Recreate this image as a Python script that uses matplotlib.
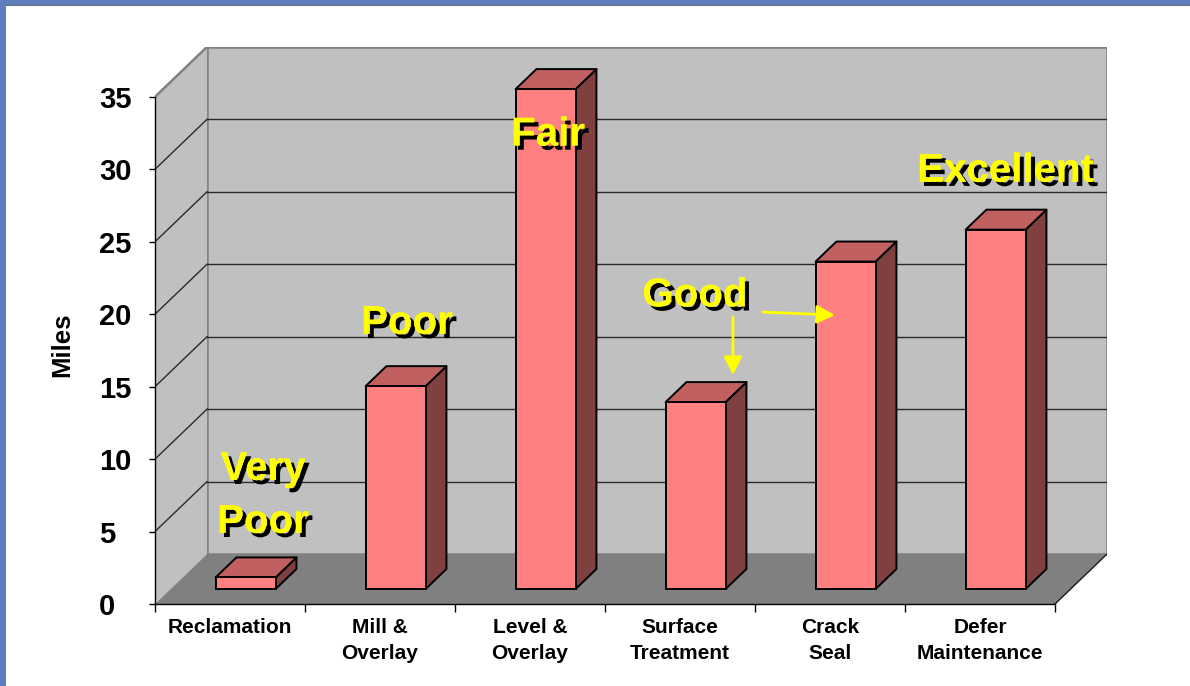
import matplotlib

matplotlib.use("Agg")

import matplotlib.patheffects as pe
import matplotlib.pyplot as plt
from matplotlib.patches import Polygon, Rectangle

plt.rcParams["font.family"] = ["Liberation Sans", "DejaVu Sans"]
plt.rcParams["font.weight"] = "bold"

# chart data
categories = [
    "Reclamation",
    "Mill &\nOverlay",
    "Level &\nOverlay",
    "Surface\nTreatment",
    "Crack\nSeal",
    "Defer\nMaintenance",
]
miles = [0.8, 14.0, 34.5, 12.9, 22.6, 24.8]
y_ticks = [0, 5, 10, 15, 20, 25, 30, 35]
conditions = ["Very\nPoor", "Poor", "Fair", "Good", "Excellent"]

# pseudo-3d layout (in data units)
DEPTH_X = 0.347
DEPTH_Y = 3.45
BAR_WIDTH = 0.4
BAR_FRONT = 0.3
BAR_DEPTH = 0.4
Y_MAX = 35

WALL = "#C0C0C0"
FLOOR = "#808080"
EDGE = "#808080"
GRID = "#2A2A2A"
FRONT = "#FF8080"
TOP = "#C06060"
SIDE = "#804040"
YELLOW = "#FFFF00"
FRAME = "#5E7EBE"

W, H = 1190, 686


def draw_walls(ax: plt.Axes, n: int) -> None:
    """Draw the back wall, left wall, floor and gridlines."""

    back = Rectangle((DEPTH_X, DEPTH_Y), n, Y_MAX, facecolor=WALL,
                     edgecolor=EDGE, linewidth=1.8, zorder=1)
    ax.add_patch(back)
    left = Polygon([(0, 0), (DEPTH_X, DEPTH_Y), (DEPTH_X, Y_MAX + DEPTH_Y), (0, Y_MAX)],
                   closed=True, facecolor=WALL, edgecolor="none", zorder=1)
    ax.add_patch(left)
    ax.plot([0, DEPTH_X], [Y_MAX, Y_MAX + DEPTH_Y], color=EDGE, lw=1.8, zorder=2)
    floor = Polygon([(0, 0), (n, 0), (n + DEPTH_X, DEPTH_Y), (DEPTH_X, DEPTH_Y)],
                    closed=True, facecolor=FLOOR, edgecolor="none", zorder=2)
    ax.add_patch(floor)
    ax.plot([n, n + DEPTH_X], [0, DEPTH_Y], color="#1A1A1A", lw=1.0, zorder=3)

    for v in y_ticks[1:-1]:
        ax.plot([DEPTH_X, n + DEPTH_X], [v + DEPTH_Y, v + DEPTH_Y], color=GRID, lw=1.0, zorder=2)
        ax.plot([0, DEPTH_X], [v, v + DEPTH_Y], color=GRID, lw=1.0, zorder=2)


def draw_bar(ax: plt.Axes, i: int, value: float) -> None:
    """Draw one 3d-looking column."""

    x0 = i + 0.5 - BAR_WIDTH / 2 + BAR_FRONT * DEPTH_X
    y0 = BAR_FRONT * DEPTH_Y
    dx = BAR_DEPTH * DEPTH_X
    dy = BAR_DEPTH * DEPTH_Y
    x1 = x0 + BAR_WIDTH
    top = y0 + value
    style = dict(closed=True, edgecolor="black", linewidth=1.4, zorder=4, joinstyle="round")
    ax.add_patch(Polygon([(x1, y0), (x1 + dx, y0 + dy), (x1 + dx, top + dy), (x1, top)],
                         facecolor=SIDE, **style))
    ax.add_patch(Polygon([(x0, top), (x1, top), (x1 + dx, top + dy), (x0 + dx, top + dy)],
                         facecolor=TOP, **style))
    ax.add_patch(Rectangle((x0, y0), BAR_WIDTH, value, facecolor=FRONT,
                           edgecolor="black", linewidth=1.4, zorder=4))


fig = plt.figure(figsize=(W / 100, H / 100), dpi=100)
fig.patch.set_facecolor("white")

# blue frame at the top and left edge of the slide
fig.add_artist(Rectangle((0, 1 - 5 / H), 1, 5 / H, transform=fig.transFigure,
                         facecolor=FRAME, edgecolor="none"))
fig.add_artist(Rectangle((0, 1 - 6 / H), 1, 1 / H, transform=fig.transFigure,
                         facecolor="#6A6A6A", edgecolor="none"))
fig.add_artist(Rectangle((0, 0), 6 / W, 1, transform=fig.transFigure,
                         facecolor=FRAME, edgecolor="none"))

n = len(categories)
px_x = 150.0
px_y = 14.49
left_px, bottom_px = 155, 604
ax_w = (n + DEPTH_X) * px_x
ax_h = (Y_MAX + DEPTH_Y) * px_y
ax = fig.add_axes([left_px / W, (H - bottom_px) / H, ax_w / W, ax_h / H])
ax.set_xlim(0, n + DEPTH_X)
ax.set_ylim(0, Y_MAX + DEPTH_Y)
ax.patch.set_visible(False)

draw_walls(ax, n)
for i, value in enumerate(miles):
    draw_bar(ax, i, value)

# axes
for side in ["top", "right"]:
    ax.spines[side].set_visible(False)
ax.spines["left"].set_bounds(0, Y_MAX)
ax.spines["bottom"].set_bounds(0, n)
for side in ["left", "bottom"]:
    ax.spines[side].set_color("black")
    ax.spines[side].set_linewidth(1.0)
    ax.spines[side].set_zorder(5)

ax.set_yticks(y_ticks)
ax.set_yticklabels([str(v) for v in y_ticks], fontsize=21, fontweight="bold")
ax.tick_params(axis="y", direction="out", length=4.3, width=1.0, pad=36)
for lbl in ax.get_yticklabels():
    lbl.set_horizontalalignment("left")

ax.set_xticks(range(n + 1))
ax.set_xticklabels([])
ax.set_xticks([i + 0.5 for i in range(n)], minor=True)
ax.set_xticklabels(categories, minor=True, fontsize=15, fontweight="bold", linespacing=1.45)
ax.tick_params(axis="x", which="major", direction="out", length=6, width=1.0)
ax.tick_params(axis="x", which="minor", length=0, pad=10)

ax.set_ylabel("Miles", fontsize=18.5, fontweight="bold", va="center")
ax.yaxis.set_label_coords((62 - left_px) / ax_w, (bottom_px - 345) / ax_h)

# condition labels
shadow = [pe.withSimplePatchShadow(offset=(3, -3), shadow_rgbFace="black", alpha=1.0), pe.Normal()]
label_pos = [(0.72, 7.5), (1.68, 19.4), (2.62, 32.4), (3.6, 21.3), (5.67, 29.9)]
for text, (x, y) in zip(conditions, label_pos):
    ax.text(x, y, text, fontsize=29, fontweight="bold", color=YELLOW, ha="center",
            va="center", linespacing=1.5, zorder=6, path_effects=shadow)

arrow = dict(arrowstyle="-|>,head_length=0.55,head_width=0.28", color=YELLOW, lw=2,
             mutation_scale=20, shrinkA=0, shrinkB=0)
ax.annotate("", xy=(3.853, 15.8), xytext=(3.853, 19.8), arrowprops=arrow, zorder=6)
ax.annotate("", xy=(4.533, 19.94), xytext=(4.053, 20.15), arrowprops=arrow, zorder=6)

fig.savefig("out.png", dpi=100)
